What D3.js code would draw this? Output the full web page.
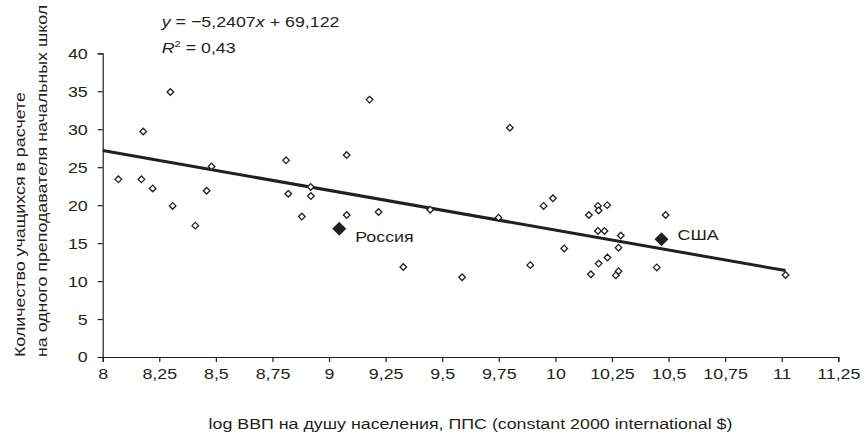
<!DOCTYPE html>
<html>
<head>
<meta charset="utf-8">
<script src="https://cdn.jsdelivr.net/npm/d3@7"></script>
<style>
  html, body { margin: 0; padding: 0; background: #fff; }
  svg { display: block; }
  text { font-family: "Liberation Sans", Arial, Helvetica, sans-serif; fill: #231f20; }
</style>
</head>
<body>
<svg id="chart" width="865" height="434"></svg>
<script>
// ---- data ----
const gdp = [8.069, 8.171, 8.179, 8.221, 8.299, 8.309, 8.409, 8.459, 8.481,
             8.810, 8.820, 8.880, 8.919, 8.920, 9.078, 9.078, 9.179, 9.219,
             9.328, 9.447, 9.588, 9.799, 9.749, 9.889, 9.948, 9.989, 10.039,
             10.148, 10.157, 10.188, 10.191, 10.229, 10.188, 10.217, 10.289,
             10.279, 10.230, 10.191, 10.279, 10.267, 10.487, 10.448, 11.017];
const pupils = [23.4, 23.4, 29.7, 22.2, 34.9, 19.9, 17.3, 21.9, 25.1,
                25.9, 21.5, 18.5, 22.4, 21.2, 26.6, 18.7, 33.9, 19.1,
                11.85, 19.4, 10.5, 30.2, 18.35, 12.1, 19.9, 20.9, 14.3,
                18.7, 10.9, 19.9, 19.3, 20.0, 16.6, 16.6, 16.0,
                14.4, 13.1, 12.3, 11.3, 10.75, 18.7, 11.8, 10.8];
const highlightNames = ["Россия", "США"];
const highlightGdp = [9.045, 10.469];
const highlightPupils = [16.9, 15.5];
const trendSlope = -5.2407;
const trendIntercept = 69.122;
const xTicks = [8, 8.25, 8.5, 8.75, 9, 9.25, 9.5, 9.75, 10, 10.25, 10.5, 10.75, 11, 11.25];
const xTickLabels = ["8", "8,25", "8,5", "8,75", "9", "9,25", "9,5", "9,75", "10", "10,25", "10,5", "10,75", "11", "11,25"];
const yTicks = [0, 5, 10, 15, 20, 25, 30, 35, 40];
const eqLine1 = ["y", " = −5,2407", "x", " + 69,122"];
const xTitle = "log ВВП на душу населения, ППС (constant 2000 international $)";
const yTitle1 = "Количество учащихся в расчете";
const yTitle2 = "на одного преподавателя начальных школ";

// ---- layout ----
const FS = 15.5, SX = 1.15;
const ink = "#231f20";
const svg = d3.select("#chart");
const x = d3.scaleLinear().domain([8, 11.25]).range([102.7, 838.3]);
const y = d3.scaleLinear().domain([0, 40]).range([357, 53.3]);

// axes
const xAxis = d3.axisBottom(x).tickValues(xTicks)
  .tickFormat((d, i) => xTickLabels[i]).tickSize(5).tickPadding(6);
const gx = svg.append("g").attr("transform", `translate(0,${y(0)})`).call(xAxis);
const yAxis = d3.axisLeft(y).tickValues(yTicks).tickSize(5).tickPadding(8);
const gy = svg.append("g").attr("transform", `translate(${x(8)},0)`).call(yAxis);
[gx, gy].forEach(g => {
  g.select(".domain").attr("stroke", ink).attr("stroke-width", 1.2);
  g.selectAll(".tick line").attr("stroke", ink).attr("stroke-width", 1.2);
  g.selectAll(".tick text").attr("font-size", FS).attr("fill", ink)
    .attr("font-family", '"Liberation Sans", Arial, sans-serif')
    .attr("transform", `scale(${SX},1)`);
});

// trend line
const xMax = d3.max(gdp.concat(highlightGdp));
svg.append("line")
  .attr("x1", x(8)).attr("y1", y(trendSlope * 8 + trendIntercept))
  .attr("x2", x(xMax)).attr("y2", y(trendSlope * xMax + trendIntercept))
  .attr("stroke", ink).attr("stroke-width", 3);

// open diamonds
const diamond = r => `M0,${-r}L${r},0L0,${r}L${-r},0Z`;
svg.append("g").selectAll("path").data(gdp).join("path")
  .attr("d", diamond(3.3))
  .attr("transform", (d, i) => `translate(${x(d)},${y(pupils[i])})`)
  .attr("fill", "#fff").attr("stroke", ink).attr("stroke-width", 1.3);

// highlighted diamonds
svg.append("g").selectAll("path").data(highlightGdp).join("path")
  .attr("d", diamond(7))
  .attr("transform", (d, i) => `translate(${x(d)},${y(highlightPupils[i])})`)
  .attr("fill", ink);

const labelOffset = [[16, 13.4], [16, 1]];
highlightNames.forEach((name, i) => {
  svg.append("text")
    .attr("transform", `translate(${x(highlightGdp[i]) + labelOffset[i][0]},${y(highlightPupils[i]) + labelOffset[i][1]}) scale(${SX},1)`)
    .attr("font-size", FS).text(name);
});

// equation
const eq = svg.append("text")
  .attr("transform", `translate(161.7,27) scale(${SX},1)`)
  .attr("font-size", FS);
eqLine1.forEach((s, i) => eq.append("tspan").attr("font-style", i % 2 === 0 ? "italic" : "normal").text(s));
const r2 = svg.append("text")
  .attr("transform", `translate(161.7,53.3) scale(${SX},1)`)
  .attr("font-size", FS);
r2.append("tspan").attr("font-style", "italic").text("R");
r2.append("tspan").attr("font-size", FS * 0.62).attr("dy", -6).text("2");
r2.append("tspan").attr("dy", 6).text(" = 0,43");

// axis titles
svg.append("text")
  .attr("transform", `translate(${(x.range()[0] + x.range()[1]) / 2},429) scale(${SX},1)`)
  .attr("text-anchor", "middle").attr("font-size", FS).text(xTitle);
svg.append("text")
  .attr("transform", `translate(25,357) rotate(-90) scale(${SX},1)`)
  .attr("font-size", FS).text(yTitle1);
svg.append("text")
  .attr("transform", `translate(46.5,357) rotate(-90) scale(${SX},1)`)
  .attr("font-size", FS).text(yTitle2);
</script>
</body>
</html>
